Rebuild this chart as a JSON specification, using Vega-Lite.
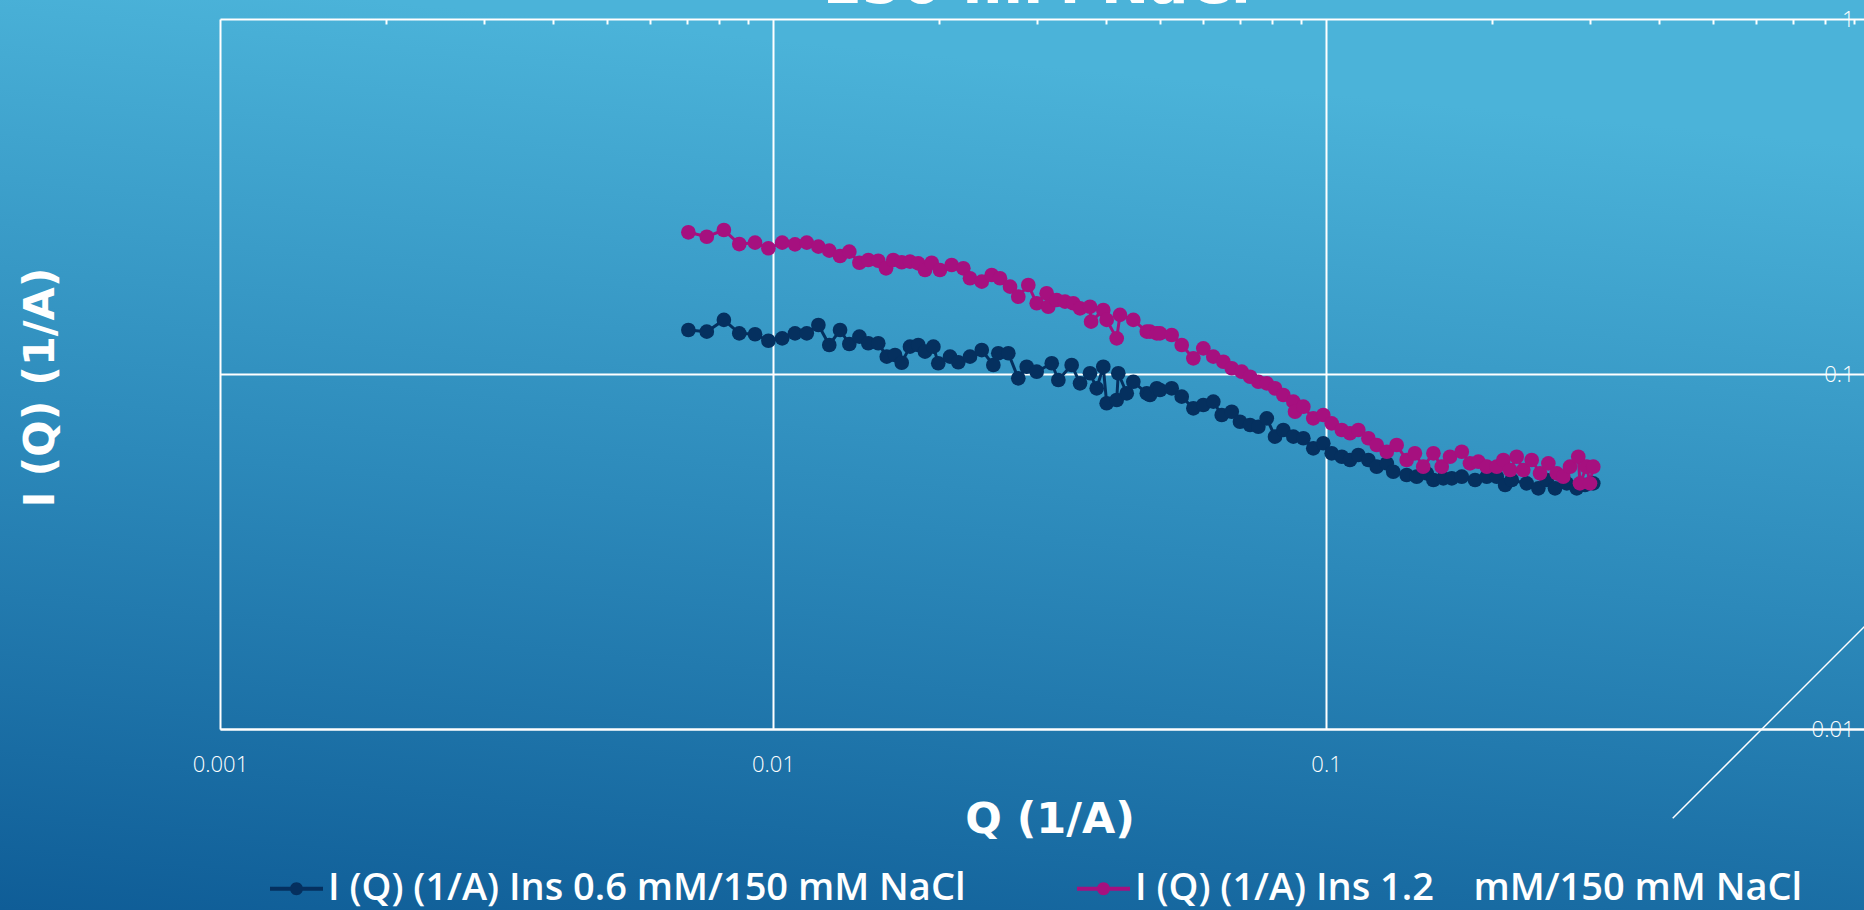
{
  "$schema": "https://vega.github.io/schema/vega-lite/v6.json",
  "width": 1864,
  "height": 910,
  "autosize": {"type": "none"},
  "padding": 0,
  "background": "#1F74AA",
  "title": {
    "text": "150 mM NaCl",
    "font": "DejaVu Sans",
    "fontSize": 58,
    "fontWeight": "bold",
    "color": "white",
    "anchor": "middle",
    "frame": "group",
    "baseline": "alphabetic",
    "offset": -61,
    "dx": 104
  },
  "config": {
    "view": {
      "stroke": null,
      "fill": {
        "gradient": "linear",
        "x1": 0, "y1": 1, "x2": 0.2, "y2": 0,
        "stops": [
          {"offset": 0, "color": "#0F5D97"},
          {"offset": 0.5, "color": "#2C89BA"},
          {"offset": 1, "color": "#4BB3D9"}
        ]
      }
    }
  },
  "resolve": {"axis": {"x": "independent", "y": "independent"}},
  "layer": [
    {
      "data": {"values": [{"Q": 0.4236, "I": 0.005604, "Q2": 1.0, "I2": 0.02136}]},
      "mark": {"type": "rule", "color": "white", "strokeWidth": 1.5},
      "encoding": {
        "x": {
          "field": "Q", "type": "quantitative",
          "scale": {"type": "log", "domain": [0.001, 1], "range": [220, 1879], "nice": false},
          "axis": {
            "orient": "top", "offset": 0,
            "values": [0.001, 0.01, 0.1, 1],
            "labels": false, "ticks": false, "domain": false,
            "grid": true, "gridColor": "white", "gridWidth": 2, "gridOpacity": 1,
            "title": null
          }
        },
        "y": {"field": "I", "type": "quantitative", "scale": {"type": "log", "domain": [0.01, 1], "range": [729, 19], "nice": false}, "axis": null},
        "x2": {"field": "Q2"},
        "y2": {"field": "I2"}
      }
    },
    {
      "data": {"name": "curves"},
      "transform": [{"filter": "datum.series == 'I (Q) (1/A) Ins 0.6 mM/150 mM NaCl'"}],
      "mark": {"type": "line", "strokeWidth": 3, "color": "#05305F"},
      "encoding": {
        "x": {
          "field": "Q", "type": "quantitative",
          "scale": {"type": "log", "domain": [0.001, 1], "range": [220, 1879], "nice": false},
          "axis": {
            "orient": "bottom", "offset": -181,
            "values": [0.001, 0.01, 0.1, 1], "format": "~g",
            "grid": false,
            "domain": true, "domainColor": "white", "domainWidth": 2,
            "ticks": false, "tickSize": 0,
            "labelFont": "Open Sans", "labelFontWeight": 300, "labelFontSize": 22, "labelColor": "white",
            "labelBaseline": "middle", "labelPadding": 35, "labelFlush": false, "labelOverlap": false, "labelBound": false,
            "title": "Q (1/A)", "titleFont": "DejaVu Sans", "titleFontWeight": "bold", "titleFontSize": 43,
            "titleColor": "white", "titleBaseline": "alphabetic", "titleY": 103
          }
        },
        "y": {
          "field": "I", "type": "quantitative",
          "scale": {"type": "log", "domain": [0.01, 1], "range": [729, 19], "nice": false},
          "axis": {
            "orient": "right", "offset": 0,
            "values": [0.01, 0.1, 1], "format": "~g",
            "grid": false,
            "domain": false, "ticks": false, "tickSize": 0,
            "labelFont": "Open Sans", "labelFontWeight": 300, "labelFontSize": 22, "labelColor": "white",
            "labelAlign": "right", "labelBaseline": "middle", "labelPadding": -10, "labelFlush": false, "labelOverlap": false,
            "title": null
          }
        }
      }
    },
    {
      "data": {"name": "curves"},
      "transform": [{"filter": "datum.series != 'I (Q) (1/A) Ins 0.6 mM/150 mM NaCl'"}],
      "mark": {"type": "line", "strokeWidth": 3, "color": "#A6107F"},
      "encoding": {
        "x": {"field": "Q", "type": "quantitative", "scale": {"type": "log", "domain": [0.001, 1], "range": [220, 1879], "nice": false}, "axis": null},
        "y": {"field": "I", "type": "quantitative", "scale": {"type": "log", "domain": [0.01, 1], "range": [729, 19], "nice": false}, "axis": null}
      }
    },
    {
      "data": {"name": "curves"},
      "mark": {"type": "point", "filled": true, "size": 215, "opacity": 1, "strokeWidth": 0},
      "encoding": {
        "x": {
          "field": "Q", "type": "quantitative",
          "scale": {"type": "log", "domain": [0.001, 1], "range": [220, 1879], "nice": false},
          "axis": {
            "orient": "top", "offset": -24,
            "values": [0.002, 0.003, 0.004, 0.005, 0.006, 0.007, 0.008, 0.009, 0.02, 0.03, 0.04, 0.05, 0.06, 0.07, 0.08, 0.09, 0.2, 0.3, 0.4, 0.5, 0.6, 0.7, 0.8, 0.9],
            "labels": false, "domain": false, "grid": false,
            "ticks": true, "tickSize": 5, "tickColor": "white", "tickWidth": 2,
            "title": null
          }
        },
        "y": {
          "field": "I", "type": "quantitative",
          "scale": {"type": "log", "domain": [0.01, 1], "range": [729, 19], "nice": false},
          "axis": {
            "orient": "left", "offset": -220,
            "values": [0.01, 0.1, 1],
            "labels": false, "ticks": false, "domain": false,
            "grid": true, "gridColor": "white", "gridWidth": 2, "gridOpacity": 1,
            "title": "I (Q) (1/A)", "titleFont": "DejaVu Sans", "titleFontWeight": "bold", "titleFontSize": 43,
            "titleColor": "white", "titleBaseline": "alphabetic", "titleAngle": -90, "titleX": -167, "titleY": 387
          }
        },
        "color": {
          "field": "series", "type": "nominal",
          "scale": {
            "domain": ["I (Q) (1/A) Ins 0.6 mM/150 mM NaCl", "I (Q) (1/A) Ins 1.2 \u00a0 \u00a0mM/150 mM NaCl"],
            "range": ["#05305F", "#A6107F"]
          },
          "legend": {
            "orient": "none", "legendX": 270, "legendY": 862,
            "direction": "horizontal", "title": null, "padding": 0,
            "symbolType": "M-1,-0.075L1,-0.075L1,0.075L-1,0.075Z M0.245,0A0.245,0.245,0,1,1,-0.245,0A0.245,0.245,0,1,1,0.245,0Z",
            "symbolSize": 2809, "symbolStrokeWidth": 0, "symbolOpacity": 1,
            "labelFont": "Open Sans", "labelFontWeight": 600, "labelFontSize": 38, "labelColor": "white",
            "labelOffset": 5, "labelLimit": 2000, "columnPadding": 111
          }
        }
      }
    }
  ],
  "datasets": {
    "curves": [
      {"series": "I (Q) (1/A) Ins 0.6 mM/150 mM NaCl", "Q": 0.00703, "I": 0.1330},
      {"series": "I (Q) (1/A) Ins 0.6 mM/150 mM NaCl", "Q": 0.00759, "I": 0.1316},
      {"series": "I (Q) (1/A) Ins 0.6 mM/150 mM NaCl", "Q": 0.00815, "I": 0.1420},
      {"series": "I (Q) (1/A) Ins 0.6 mM/150 mM NaCl", "Q": 0.00869, "I": 0.1302},
      {"series": "I (Q) (1/A) Ins 0.6 mM/150 mM NaCl", "Q": 0.00928, "I": 0.1294},
      {"series": "I (Q) (1/A) Ins 0.6 mM/150 mM NaCl", "Q": 0.00981, "I": 0.1241},
      {"series": "I (Q) (1/A) Ins 0.6 mM/150 mM NaCl", "Q": 0.01039, "I": 0.1260},
      {"series": "I (Q) (1/A) Ins 0.6 mM/150 mM NaCl", "Q": 0.01096, "I": 0.1302},
      {"series": "I (Q) (1/A) Ins 0.6 mM/150 mM NaCl", "Q": 0.01151, "I": 0.1302},
      {"series": "I (Q) (1/A) Ins 0.6 mM/150 mM NaCl", "Q": 0.01208, "I": 0.1374},
      {"series": "I (Q) (1/A) Ins 0.6 mM/150 mM NaCl", "Q": 0.01264, "I": 0.1207},
      {"series": "I (Q) (1/A) Ins 0.6 mM/150 mM NaCl", "Q": 0.01322, "I": 0.1330},
      {"series": "I (Q) (1/A) Ins 0.6 mM/150 mM NaCl", "Q": 0.01374, "I": 0.1215},
      {"series": "I (Q) (1/A) Ins 0.6 mM/150 mM NaCl", "Q": 0.01433, "I": 0.1274},
      {"series": "I (Q) (1/A) Ins 0.6 mM/150 mM NaCl", "Q": 0.01487, "I": 0.1221},
      {"series": "I (Q) (1/A) Ins 0.6 mM/150 mM NaCl", "Q": 0.01550, "I": 0.1221},
      {"series": "I (Q) (1/A) Ins 0.6 mM/150 mM NaCl", "Q": 0.01606, "I": 0.1119},
      {"series": "I (Q) (1/A) Ins 0.6 mM/150 mM NaCl", "Q": 0.01662, "I": 0.1131},
      {"series": "I (Q) (1/A) Ins 0.6 mM/150 mM NaCl", "Q": 0.01709, "I": 0.1076},
      {"series": "I (Q) (1/A) Ins 0.6 mM/150 mM NaCl", "Q": 0.01769, "I": 0.1194},
      {"series": "I (Q) (1/A) Ins 0.6 mM/150 mM NaCl", "Q": 0.01831, "I": 0.1207},
      {"series": "I (Q) (1/A) Ins 0.6 mM/150 mM NaCl", "Q": 0.01883, "I": 0.1156},
      {"series": "I (Q) (1/A) Ins 0.6 mM/150 mM NaCl", "Q": 0.01950, "I": 0.1194},
      {"series": "I (Q) (1/A) Ins 0.6 mM/150 mM NaCl", "Q": 0.01990, "I": 0.1072},
      {"series": "I (Q) (1/A) Ins 0.6 mM/150 mM NaCl", "Q": 0.02090, "I": 0.1119},
      {"series": "I (Q) (1/A) Ins 0.6 mM/150 mM NaCl", "Q": 0.02163, "I": 0.1079},
      {"series": "I (Q) (1/A) Ins 0.6 mM/150 mM NaCl", "Q": 0.02271, "I": 0.1119},
      {"series": "I (Q) (1/A) Ins 0.6 mM/150 mM NaCl", "Q": 0.02385, "I": 0.1168},
      {"series": "I (Q) (1/A) Ins 0.6 mM/150 mM NaCl", "Q": 0.02503, "I": 0.1060},
      {"series": "I (Q) (1/A) Ins 0.6 mM/150 mM NaCl", "Q": 0.02555, "I": 0.1144},
      {"series": "I (Q) (1/A) Ins 0.6 mM/150 mM NaCl", "Q": 0.02664, "I": 0.1144},
      {"series": "I (Q) (1/A) Ins 0.6 mM/150 mM NaCl", "Q": 0.02777, "I": 0.09725},
      {"series": "I (Q) (1/A) Ins 0.6 mM/150 mM NaCl", "Q": 0.02876, "I": 0.1048},
      {"series": "I (Q) (1/A) Ins 0.6 mM/150 mM NaCl", "Q": 0.02998, "I": 0.1015},
      {"series": "I (Q) (1/A) Ins 0.6 mM/150 mM NaCl", "Q": 0.03192, "I": 0.1072},
      {"series": "I (Q) (1/A) Ins 0.6 mM/150 mM NaCl", "Q": 0.03281, "I": 0.09618},
      {"series": "I (Q) (1/A) Ins 0.6 mM/150 mM NaCl", "Q": 0.03468, "I": 0.1060},
      {"series": "I (Q) (1/A) Ins 0.6 mM/150 mM NaCl", "Q": 0.03591, "I": 0.09414},
      {"series": "I (Q) (1/A) Ins 0.6 mM/150 mM NaCl", "Q": 0.03743, "I": 0.1005},
      {"series": "I (Q) (1/A) Ins 0.6 mM/150 mM NaCl", "Q": 0.03849, "I": 0.09114},
      {"series": "I (Q) (1/A) Ins 0.6 mM/150 mM NaCl", "Q": 0.03956, "I": 0.1048},
      {"series": "I (Q) (1/A) Ins 0.6 mM/150 mM NaCl", "Q": 0.04012, "I": 0.08270},
      {"series": "I (Q) (1/A) Ins 0.6 mM/150 mM NaCl", "Q": 0.04183, "I": 0.08449},
      {"series": "I (Q) (1/A) Ins 0.6 mM/150 mM NaCl", "Q": 0.04211, "I": 0.1005},
      {"series": "I (Q) (1/A) Ins 0.6 mM/150 mM NaCl", "Q": 0.04362, "I": 0.08823},
      {"series": "I (Q) (1/A) Ins 0.6 mM/150 mM NaCl", "Q": 0.04483, "I": 0.09512},
      {"series": "I (Q) (1/A) Ins 0.6 mM/150 mM NaCl", "Q": 0.04741, "I": 0.08823},
      {"series": "I (Q) (1/A) Ins 0.6 mM/150 mM NaCl", "Q": 0.04805, "I": 0.08726},
      {"series": "I (Q) (1/A) Ins 0.6 mM/150 mM NaCl", "Q": 0.04942, "I": 0.09114},
      {"series": "I (Q) (1/A) Ins 0.6 mM/150 mM NaCl", "Q": 0.05010, "I": 0.09015},
      {"series": "I (Q) (1/A) Ins 0.6 mM/150 mM NaCl", "Q": 0.05260, "I": 0.09114},
      {"series": "I (Q) (1/A) Ins 0.6 mM/150 mM NaCl", "Q": 0.05484, "I": 0.08632},
      {"series": "I (Q) (1/A) Ins 0.6 mM/150 mM NaCl", "Q": 0.05756, "I": 0.08005},
      {"series": "I (Q) (1/A) Ins 0.6 mM/150 mM NaCl", "Q": 0.06000, "I": 0.08179},
      {"series": "I (Q) (1/A) Ins 0.6 mM/150 mM NaCl", "Q": 0.06255, "I": 0.08356},
      {"series": "I (Q) (1/A) Ins 0.6 mM/150 mM NaCl", "Q": 0.06478, "I": 0.07664},
      {"series": "I (Q) (1/A) Ins 0.6 mM/150 mM NaCl", "Q": 0.06754, "I": 0.07830},
      {"series": "I (Q) (1/A) Ins 0.6 mM/150 mM NaCl", "Q": 0.06990, "I": 0.07338},
      {"series": "I (Q) (1/A) Ins 0.6 mM/150 mM NaCl", "Q": 0.07290, "I": 0.07183},
      {"series": "I (Q) (1/A) Ins 0.6 mM/150 mM NaCl", "Q": 0.07545, "I": 0.07104},
      {"series": "I (Q) (1/A) Ins 0.6 mM/150 mM NaCl", "Q": 0.07814, "I": 0.07502},
      {"series": "I (Q) (1/A) Ins 0.6 mM/150 mM NaCl", "Q": 0.08088, "I": 0.06660},
      {"series": "I (Q) (1/A) Ins 0.6 mM/150 mM NaCl", "Q": 0.08372, "I": 0.06955},
      {"series": "I (Q) (1/A) Ins 0.6 mM/150 mM NaCl", "Q": 0.08729, "I": 0.06660},
      {"series": "I (Q) (1/A) Ins 0.6 mM/150 mM NaCl", "Q": 0.09100, "I": 0.06591},
      {"series": "I (Q) (1/A) Ins 0.6 mM/150 mM NaCl", "Q": 0.09484, "I": 0.06176},
      {"series": "I (Q) (1/A) Ins 0.6 mM/150 mM NaCl", "Q": 0.09888, "I": 0.06380},
      {"series": "I (Q) (1/A) Ins 0.6 mM/150 mM NaCl", "Q": 0.1024, "I": 0.05979},
      {"series": "I (Q) (1/A) Ins 0.6 mM/150 mM NaCl", "Q": 0.1068, "I": 0.05848},
      {"series": "I (Q) (1/A) Ins 0.6 mM/150 mM NaCl", "Q": 0.1105, "I": 0.05724},
      {"series": "I (Q) (1/A) Ins 0.6 mM/150 mM NaCl", "Q": 0.1144, "I": 0.05913},
      {"series": "I (Q) (1/A) Ins 0.6 mM/150 mM NaCl", "Q": 0.1193, "I": 0.05724},
      {"series": "I (Q) (1/A) Ins 0.6 mM/150 mM NaCl", "Q": 0.1235, "I": 0.05481},
      {"series": "I (Q) (1/A) Ins 0.6 mM/150 mM NaCl", "Q": 0.1288, "I": 0.05603},
      {"series": "I (Q) (1/A) Ins 0.6 mM/150 mM NaCl", "Q": 0.1323, "I": 0.05306},
      {"series": "I (Q) (1/A) Ins 0.6 mM/150 mM NaCl", "Q": 0.1399, "I": 0.05194},
      {"series": "I (Q) (1/A) Ins 0.6 mM/150 mM NaCl", "Q": 0.1459, "I": 0.05137},
      {"series": "I (Q) (1/A) Ins 0.6 mM/150 mM NaCl", "Q": 0.1521, "I": 0.05251},
      {"series": "I (Q) (1/A) Ins 0.6 mM/150 mM NaCl", "Q": 0.1564, "I": 0.05028},
      {"series": "I (Q) (1/A) Ins 0.6 mM/150 mM NaCl", "Q": 0.1630, "I": 0.05084},
      {"series": "I (Q) (1/A) Ins 0.6 mM/150 mM NaCl", "Q": 0.1688, "I": 0.05084},
      {"series": "I (Q) (1/A) Ins 0.6 mM/150 mM NaCl", "Q": 0.1760, "I": 0.05137},
      {"series": "I (Q) (1/A) Ins 0.6 mM/150 mM NaCl", "Q": 0.1860, "I": 0.05028},
      {"series": "I (Q) (1/A) Ins 0.6 mM/150 mM NaCl", "Q": 0.1953, "I": 0.05137},
      {"series": "I (Q) (1/A) Ins 0.6 mM/150 mM NaCl", "Q": 0.2036, "I": 0.05137},
      {"series": "I (Q) (1/A) Ins 0.6 mM/150 mM NaCl", "Q": 0.2108, "I": 0.04867},
      {"series": "I (Q) (1/A) Ins 0.6 mM/150 mM NaCl", "Q": 0.2167, "I": 0.05028},
      {"series": "I (Q) (1/A) Ins 0.6 mM/150 mM NaCl", "Q": 0.2306, "I": 0.04921},
      {"series": "I (Q) (1/A) Ins 0.6 mM/150 mM NaCl", "Q": 0.2421, "I": 0.04764},
      {"series": "I (Q) (1/A) Ins 0.6 mM/150 mM NaCl", "Q": 0.2507, "I": 0.05028},
      {"series": "I (Q) (1/A) Ins 0.6 mM/150 mM NaCl", "Q": 0.2595, "I": 0.04764},
      {"series": "I (Q) (1/A) Ins 0.6 mM/150 mM NaCl", "Q": 0.2725, "I": 0.04921},
      {"series": "I (Q) (1/A) Ins 0.6 mM/150 mM NaCl", "Q": 0.2840, "I": 0.04764},
      {"series": "I (Q) (1/A) Ins 0.6 mM/150 mM NaCl", "Q": 0.2940, "I": 0.04867},
      {"series": "I (Q) (1/A) Ins 0.6 mM/150 mM NaCl", "Q": 0.3043, "I": 0.04921},
      {"series": "I (Q) (1/A) Ins 1.2 \u00a0 \u00a0mM/150 mM NaCl", "Q": 0.00703, "I": 0.2507},
      {"series": "I (Q) (1/A) Ins 1.2 \u00a0 \u00a0mM/150 mM NaCl", "Q": 0.00759, "I": 0.2436},
      {"series": "I (Q) (1/A) Ins 1.2 \u00a0 \u00a0mM/150 mM NaCl", "Q": 0.00815, "I": 0.2544},
      {"series": "I (Q) (1/A) Ins 1.2 \u00a0 \u00a0mM/150 mM NaCl", "Q": 0.00869, "I": 0.2323},
      {"series": "I (Q) (1/A) Ins 1.2 \u00a0 \u00a0mM/150 mM NaCl", "Q": 0.00928, "I": 0.2344},
      {"series": "I (Q) (1/A) Ins 1.2 \u00a0 \u00a0mM/150 mM NaCl", "Q": 0.00981, "I": 0.2260},
      {"series": "I (Q) (1/A) Ins 1.2 \u00a0 \u00a0mM/150 mM NaCl", "Q": 0.01039, "I": 0.2344},
      {"series": "I (Q) (1/A) Ins 1.2 \u00a0 \u00a0mM/150 mM NaCl", "Q": 0.01096, "I": 0.2319},
      {"series": "I (Q) (1/A) Ins 1.2 \u00a0 \u00a0mM/150 mM NaCl", "Q": 0.01151, "I": 0.2344},
      {"series": "I (Q) (1/A) Ins 1.2 \u00a0 \u00a0mM/150 mM NaCl", "Q": 0.01208, "I": 0.2284},
      {"series": "I (Q) (1/A) Ins 1.2 \u00a0 \u00a0mM/150 mM NaCl", "Q": 0.01264, "I": 0.2226},
      {"series": "I (Q) (1/A) Ins 1.2 \u00a0 \u00a0mM/150 mM NaCl", "Q": 0.01322, "I": 0.2150},
      {"series": "I (Q) (1/A) Ins 1.2 \u00a0 \u00a0mM/150 mM NaCl", "Q": 0.01374, "I": 0.2211},
      {"series": "I (Q) (1/A) Ins 1.2 \u00a0 \u00a0mM/150 mM NaCl", "Q": 0.01433, "I": 0.2058},
      {"series": "I (Q) (1/A) Ins 1.2 \u00a0 \u00a0mM/150 mM NaCl", "Q": 0.01487, "I": 0.2095},
      {"series": "I (Q) (1/A) Ins 1.2 \u00a0 \u00a0mM/150 mM NaCl", "Q": 0.01550, "I": 0.2085},
      {"series": "I (Q) (1/A) Ins 1.2 \u00a0 \u00a0mM/150 mM NaCl", "Q": 0.01601, "I": 0.1985},
      {"series": "I (Q) (1/A) Ins 1.2 \u00a0 \u00a0mM/150 mM NaCl", "Q": 0.01650, "I": 0.2095},
      {"series": "I (Q) (1/A) Ins 1.2 \u00a0 \u00a0mM/150 mM NaCl", "Q": 0.01709, "I": 0.2064},
      {"series": "I (Q) (1/A) Ins 1.2 \u00a0 \u00a0mM/150 mM NaCl", "Q": 0.01769, "I": 0.2072},
      {"series": "I (Q) (1/A) Ins 1.2 \u00a0 \u00a0mM/150 mM NaCl", "Q": 0.01831, "I": 0.2050},
      {"series": "I (Q) (1/A) Ins 1.2 \u00a0 \u00a0mM/150 mM NaCl", "Q": 0.01883, "I": 0.1963},
      {"series": "I (Q) (1/A) Ins 1.2 \u00a0 \u00a0mM/150 mM NaCl", "Q": 0.01936, "I": 0.2058},
      {"series": "I (Q) (1/A) Ins 1.2 \u00a0 \u00a0mM/150 mM NaCl", "Q": 0.02004, "I": 0.1963},
      {"series": "I (Q) (1/A) Ins 1.2 \u00a0 \u00a0mM/150 mM NaCl", "Q": 0.02104, "I": 0.2028},
      {"series": "I (Q) (1/A) Ins 1.2 \u00a0 \u00a0mM/150 mM NaCl", "Q": 0.02209, "I": 0.1985},
      {"series": "I (Q) (1/A) Ins 1.2 \u00a0 \u00a0mM/150 mM NaCl", "Q": 0.02271, "I": 0.1861},
      {"series": "I (Q) (1/A) Ins 1.2 \u00a0 \u00a0mM/150 mM NaCl", "Q": 0.02385, "I": 0.1820},
      {"series": "I (Q) (1/A) Ins 1.2 \u00a0 \u00a0mM/150 mM NaCl", "Q": 0.02486, "I": 0.1901},
      {"series": "I (Q) (1/A) Ins 1.2 \u00a0 \u00a0mM/150 mM NaCl", "Q": 0.02573, "I": 0.1861},
      {"series": "I (Q) (1/A) Ins 1.2 \u00a0 \u00a0mM/150 mM NaCl", "Q": 0.02683, "I": 0.1762},
      {"series": "I (Q) (1/A) Ins 1.2 \u00a0 \u00a0mM/150 mM NaCl", "Q": 0.02777, "I": 0.1651},
      {"series": "I (Q) (1/A) Ins 1.2 \u00a0 \u00a0mM/150 mM NaCl", "Q": 0.02895, "I": 0.1781},
      {"series": "I (Q) (1/A) Ins 1.2 \u00a0 \u00a0mM/150 mM NaCl", "Q": 0.02998, "I": 0.1582},
      {"series": "I (Q) (1/A) Ins 1.2 \u00a0 \u00a0mM/150 mM NaCl", "Q": 0.03125, "I": 0.1688},
      {"series": "I (Q) (1/A) Ins 1.2 \u00a0 \u00a0mM/150 mM NaCl", "Q": 0.03146, "I": 0.1547},
      {"series": "I (Q) (1/A) Ins 1.2 \u00a0 \u00a0mM/150 mM NaCl", "Q": 0.03258, "I": 0.1616},
      {"series": "I (Q) (1/A) Ins 1.2 \u00a0 \u00a0mM/150 mM NaCl", "Q": 0.03373, "I": 0.1599},
      {"series": "I (Q) (1/A) Ins 1.2 \u00a0 \u00a0mM/150 mM NaCl", "Q": 0.03491, "I": 0.1582},
      {"series": "I (Q) (1/A) Ins 1.2 \u00a0 \u00a0mM/150 mM NaCl", "Q": 0.03591, "I": 0.1531},
      {"series": "I (Q) (1/A) Ins 1.2 \u00a0 \u00a0mM/150 mM NaCl", "Q": 0.03743, "I": 0.1547},
      {"series": "I (Q) (1/A) Ins 1.2 \u00a0 \u00a0mM/150 mM NaCl", "Q": 0.03760, "I": 0.1404},
      {"series": "I (Q) (1/A) Ins 1.2 \u00a0 \u00a0mM/150 mM NaCl", "Q": 0.03956, "I": 0.1514},
      {"series": "I (Q) (1/A) Ins 1.2 \u00a0 \u00a0mM/150 mM NaCl", "Q": 0.04012, "I": 0.1420},
      {"series": "I (Q) (1/A) Ins 1.2 \u00a0 \u00a0mM/150 mM NaCl", "Q": 0.04183, "I": 0.1260},
      {"series": "I (Q) (1/A) Ins 1.2 \u00a0 \u00a0mM/150 mM NaCl", "Q": 0.04241, "I": 0.1467},
      {"series": "I (Q) (1/A) Ins 1.2 \u00a0 \u00a0mM/150 mM NaCl", "Q": 0.04483, "I": 0.1420},
      {"series": "I (Q) (1/A) Ins 1.2 \u00a0 \u00a0mM/150 mM NaCl", "Q": 0.04741, "I": 0.1316},
      {"series": "I (Q) (1/A) Ins 1.2 \u00a0 \u00a0mM/150 mM NaCl", "Q": 0.04805, "I": 0.1316},
      {"series": "I (Q) (1/A) Ins 1.2 \u00a0 \u00a0mM/150 mM NaCl", "Q": 0.04942, "I": 0.1302},
      {"series": "I (Q) (1/A) Ins 1.2 \u00a0 \u00a0mM/150 mM NaCl", "Q": 0.05010, "I": 0.1302},
      {"series": "I (Q) (1/A) Ins 1.2 \u00a0 \u00a0mM/150 mM NaCl", "Q": 0.05260, "I": 0.1288},
      {"series": "I (Q) (1/A) Ins 1.2 \u00a0 \u00a0mM/150 mM NaCl", "Q": 0.05484, "I": 0.1207},
      {"series": "I (Q) (1/A) Ins 1.2 \u00a0 \u00a0mM/150 mM NaCl", "Q": 0.05756, "I": 0.1107},
      {"series": "I (Q) (1/A) Ins 1.2 \u00a0 \u00a0mM/150 mM NaCl", "Q": 0.06000, "I": 0.1181},
      {"series": "I (Q) (1/A) Ins 1.2 \u00a0 \u00a0mM/150 mM NaCl", "Q": 0.06255, "I": 0.1119},
      {"series": "I (Q) (1/A) Ins 1.2 \u00a0 \u00a0mM/150 mM NaCl", "Q": 0.06522, "I": 0.1083},
      {"series": "I (Q) (1/A) Ins 1.2 \u00a0 \u00a0mM/150 mM NaCl", "Q": 0.06754, "I": 0.1038},
      {"series": "I (Q) (1/A) Ins 1.2 \u00a0 \u00a0mM/150 mM NaCl", "Q": 0.07040, "I": 0.1015},
      {"series": "I (Q) (1/A) Ins 1.2 \u00a0 \u00a0mM/150 mM NaCl", "Q": 0.07290, "I": 0.09826},
      {"series": "I (Q) (1/A) Ins 1.2 \u00a0 \u00a0mM/150 mM NaCl", "Q": 0.07545, "I": 0.09512},
      {"series": "I (Q) (1/A) Ins 1.2 \u00a0 \u00a0mM/150 mM NaCl", "Q": 0.07814, "I": 0.09414},
      {"series": "I (Q) (1/A) Ins 1.2 \u00a0 \u00a0mM/150 mM NaCl", "Q": 0.08088, "I": 0.09114},
      {"series": "I (Q) (1/A) Ins 1.2 \u00a0 \u00a0mM/150 mM NaCl", "Q": 0.08372, "I": 0.08726},
      {"series": "I (Q) (1/A) Ins 1.2 \u00a0 \u00a0mM/150 mM NaCl", "Q": 0.08729, "I": 0.08356},
      {"series": "I (Q) (1/A) Ins 1.2 \u00a0 \u00a0mM/150 mM NaCl", "Q": 0.08790, "I": 0.07830},
      {"series": "I (Q) (1/A) Ins 1.2 \u00a0 \u00a0mM/150 mM NaCl", "Q": 0.09100, "I": 0.08089},
      {"series": "I (Q) (1/A) Ins 1.2 \u00a0 \u00a0mM/150 mM NaCl", "Q": 0.09484, "I": 0.07502},
      {"series": "I (Q) (1/A) Ins 1.2 \u00a0 \u00a0mM/150 mM NaCl", "Q": 0.09888, "I": 0.07664},
      {"series": "I (Q) (1/A) Ins 1.2 \u00a0 \u00a0mM/150 mM NaCl", "Q": 0.1024, "I": 0.07262},
      {"series": "I (Q) (1/A) Ins 1.2 \u00a0 \u00a0mM/150 mM NaCl", "Q": 0.1068, "I": 0.06955},
      {"series": "I (Q) (1/A) Ins 1.2 \u00a0 \u00a0mM/150 mM NaCl", "Q": 0.1105, "I": 0.06808},
      {"series": "I (Q) (1/A) Ins 1.2 \u00a0 \u00a0mM/150 mM NaCl", "Q": 0.1144, "I": 0.06955},
      {"series": "I (Q) (1/A) Ins 1.2 \u00a0 \u00a0mM/150 mM NaCl", "Q": 0.1193, "I": 0.06591},
      {"series": "I (Q) (1/A) Ins 1.2 \u00a0 \u00a0mM/150 mM NaCl", "Q": 0.1235, "I": 0.06310},
      {"series": "I (Q) (1/A) Ins 1.2 \u00a0 \u00a0mM/150 mM NaCl", "Q": 0.1288, "I": 0.06041},
      {"series": "I (Q) (1/A) Ins 1.2 \u00a0 \u00a0mM/150 mM NaCl", "Q": 0.1342, "I": 0.06310},
      {"series": "I (Q) (1/A) Ins 1.2 \u00a0 \u00a0mM/150 mM NaCl", "Q": 0.1399, "I": 0.05724},
      {"series": "I (Q) (1/A) Ins 1.2 \u00a0 \u00a0mM/150 mM NaCl", "Q": 0.1448, "I": 0.05979},
      {"series": "I (Q) (1/A) Ins 1.2 \u00a0 \u00a0mM/150 mM NaCl", "Q": 0.1499, "I": 0.05481},
      {"series": "I (Q) (1/A) Ins 1.2 \u00a0 \u00a0mM/150 mM NaCl", "Q": 0.1564, "I": 0.05979},
      {"series": "I (Q) (1/A) Ins 1.2 \u00a0 \u00a0mM/150 mM NaCl", "Q": 0.1619, "I": 0.05481},
      {"series": "I (Q) (1/A) Ins 1.2 \u00a0 \u00a0mM/150 mM NaCl", "Q": 0.1676, "I": 0.05848},
      {"series": "I (Q) (1/A) Ins 1.2 \u00a0 \u00a0mM/150 mM NaCl", "Q": 0.1760, "I": 0.06041},
      {"series": "I (Q) (1/A) Ins 1.2 \u00a0 \u00a0mM/150 mM NaCl", "Q": 0.1821, "I": 0.05603},
      {"series": "I (Q) (1/A) Ins 1.2 \u00a0 \u00a0mM/150 mM NaCl", "Q": 0.1886, "I": 0.05662},
      {"series": "I (Q) (1/A) Ins 1.2 \u00a0 \u00a0mM/150 mM NaCl", "Q": 0.1953, "I": 0.05481},
      {"series": "I (Q) (1/A) Ins 1.2 \u00a0 \u00a0mM/150 mM NaCl", "Q": 0.2036, "I": 0.05481},
      {"series": "I (Q) (1/A) Ins 1.2 \u00a0 \u00a0mM/150 mM NaCl", "Q": 0.2093, "I": 0.05724},
      {"series": "I (Q) (1/A) Ins 1.2 \u00a0 \u00a0mM/150 mM NaCl", "Q": 0.2152, "I": 0.05365},
      {"series": "I (Q) (1/A) Ins 1.2 \u00a0 \u00a0mM/150 mM NaCl", "Q": 0.2212, "I": 0.05848},
      {"series": "I (Q) (1/A) Ins 1.2 \u00a0 \u00a0mM/150 mM NaCl", "Q": 0.2274, "I": 0.05365},
      {"series": "I (Q) (1/A) Ins 1.2 \u00a0 \u00a0mM/150 mM NaCl", "Q": 0.2355, "I": 0.05724},
      {"series": "I (Q) (1/A) Ins 1.2 \u00a0 \u00a0mM/150 mM NaCl", "Q": 0.2438, "I": 0.05251},
      {"series": "I (Q) (1/A) Ins 1.2 \u00a0 \u00a0mM/150 mM NaCl", "Q": 0.2524, "I": 0.05603},
      {"series": "I (Q) (1/A) Ins 1.2 \u00a0 \u00a0mM/150 mM NaCl", "Q": 0.2614, "I": 0.05251},
      {"series": "I (Q) (1/A) Ins 1.2 \u00a0 \u00a0mM/150 mM NaCl", "Q": 0.2686, "I": 0.05137},
      {"series": "I (Q) (1/A) Ins 1.2 \u00a0 \u00a0mM/150 mM NaCl", "Q": 0.2762, "I": 0.05481},
      {"series": "I (Q) (1/A) Ins 1.2 \u00a0 \u00a0mM/150 mM NaCl", "Q": 0.2859, "I": 0.05848},
      {"series": "I (Q) (1/A) Ins 1.2 \u00a0 \u00a0mM/150 mM NaCl", "Q": 0.2879, "I": 0.04921},
      {"series": "I (Q) (1/A) Ins 1.2 \u00a0 \u00a0mM/150 mM NaCl", "Q": 0.2961, "I": 0.05481},
      {"series": "I (Q) (1/A) Ins 1.2 \u00a0 \u00a0mM/150 mM NaCl", "Q": 0.3002, "I": 0.04921},
      {"series": "I (Q) (1/A) Ins 1.2 \u00a0 \u00a0mM/150 mM NaCl", "Q": 0.3043, "I": 0.05481}
    ]
  }
}
